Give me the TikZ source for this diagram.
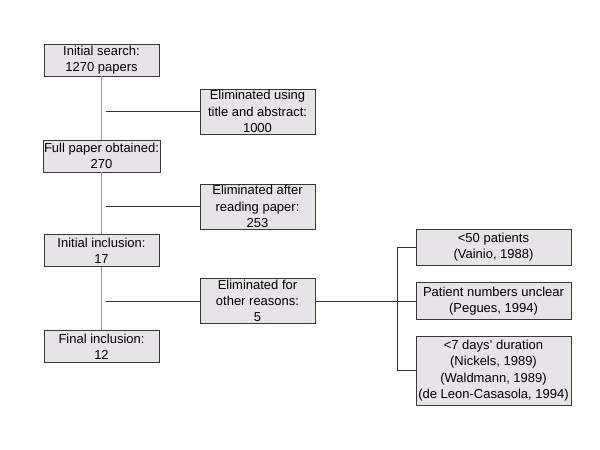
\documentclass[tikz,border=0pt]{standalone}
\usepackage{fontspec}
\setmainfont{Liberation Sans}
\definecolor{boxfill}{HTML}{E7E3E8}
\definecolor{boxdraw}{HTML}{383838}
\definecolor{vline}{HTML}{999999}
\definecolor{hline}{HTML}{333333}
\begin{document}
\begin{tikzpicture}[x=1pt,y=-1pt,
  box/.style={draw=boxdraw,fill=boxfill,line width=0.9pt,align=center,
    inner xsep=1pt,inner ysep=0pt,
    font=\fontsize{13}{16.3}\selectfont},
  mainbox/.style={box,minimum width=115pt,minimum height=32pt},
  elimbox/.style={box,minimum width=115pt,minimum height=45pt},
  sidebox/.style={box,minimum width=155pt},
  vcon/.style={draw=vline,line width=1pt},
  hcon/.style={draw=hline,line width=0.9pt}]
\useasboundingbox (0,0) rectangle (600,450);
\node[mainbox] (b1) at (101.5,60) {Initial search:\\1270 papers};
\node[mainbox] (b2) at (101.5,156) {Full paper obtained:\\270};
\node[mainbox] (b3) at (101.5,250.5) {Initial inclusion:\\17};
\node[mainbox] (b4) at (101.5,346.5) {Final inclusion:\\12};
\node[elimbox] (e1) at (257.5,111.5) {Eliminated using\\title and abstract:\\1000};
\node[elimbox] (e2) at (257.5,206.5) {Eliminated after\\reading paper:\\253};
\node[elimbox] (e3) at (257.5,301) {Eliminated for\\other reasons:\\5};
\node[sidebox,minimum height=36pt] (ra) at (493.5,247) {<50 patients\\(Vainio, 1988)};
\node[sidebox,minimum height=37pt] (rb) at (493.5,301) {Patient numbers unclear\\(Pegues, 1994)};
\node[sidebox,minimum height=69pt] (rc) at (493.5,370.5) {<7 days' duration\\(Nickels, 1989)\\(Waldmann, 1989)\\(de Leon-Casasola, 1994)};
\coordinate (br) at (397,301);
\draw[vcon] (b1.south) -- (b2.north);
\draw[vcon] (b2.south) -- (b3.north);
\draw[vcon] (b3.south) -- (b4.north);
\draw[hcon] ([xshift=4pt]b1.south |- e1.west) -- (e1.west);
\draw[hcon] ([xshift=4pt]b2.south |- e2.west) -- (e2.west);
\draw[hcon] ([xshift=4pt]b3.south |- e3.west) -- (e3.west);
\draw[hcon] (e3.east) -- (rb.west);
\draw[hcon] (ra.west) -- (br |- ra.west) -- (br |- rc.west) -- (rc.west);
\end{tikzpicture}
\end{document}
